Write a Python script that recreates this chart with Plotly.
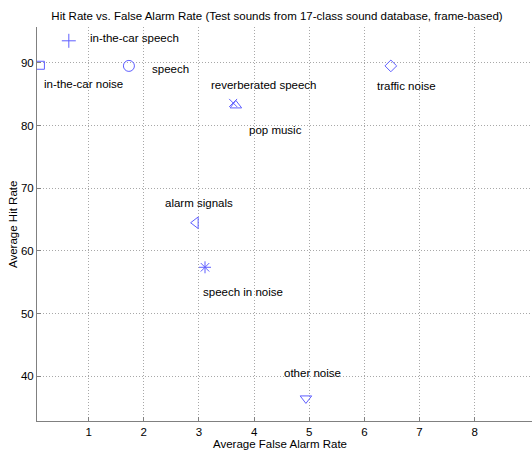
import plotly.graph_objects as go

labels = ["in-the-car speech", "in-the-car noise", "speech", "traffic noise",
          "reverberated speech", "pop music", "alarm signals", "speech in noise", "other noise"]
false_alarm = [0.64, 0.125, 1.73, 6.48, 3.67, 3.62, 2.94, 3.11, 4.94]
hit_rate = [93.5, 89.6, 89.5, 89.5, 83.2, 83.6, 64.5, 57.4, 36.5]
symbols = ["cross-thin-open", "square-open", "circle-open", "diamond-open",
           "triangle-up-open", "x-thin-open", "triangle-left-open", "asterisk-open", "triangle-down-open"]
sizes = [10, 8, 11, 9, 10, 8, 10, 10, 10]
label_x = [0.98, 0.15, 2.11, 6.2, 3.19, 3.88, 2.35, 3.04, 4.5]
label_y = [93.9, 86.6, 89.0, 86.3, 86.4, 79.3, 67.6, 53.4, 40.5]
x_ticks = [1, 2, 3, 4, 5, 6, 7, 8]
y_ticks = [40, 50, 60, 70, 80, 90]

color = "rgb(95,95,255)"
fig = go.Figure()
for i in range(len(labels)):
    fig.add_trace(go.Scatter(
        x=[false_alarm[i]], y=[hit_rate[i]], mode="markers", name=labels[i],
        marker=dict(symbol=symbols[i], size=sizes[i], color=color,
                    line=dict(color=color, width=1)),
        showlegend=False, hoverinfo="skip"))

font = dict(family="Liberation Sans, Arial, sans-serif", size=11.5, color="black")
for i in range(len(labels)):
    fig.add_annotation(x=label_x[i], y=label_y[i], text=labels[i], showarrow=False,
                       xanchor="left", yanchor="middle", font=font)

W, H, L, R, T, B = 532, 450, 37, 0, 27, 29
pw, ph = W - L - R, H - T - B
fig.add_annotation(text="Average False Alarm Rate", xref="paper", yref="paper",
                   x=(280 - L) / pw, y=-(444 - (H - B)) / ph, xanchor="center",
                   yanchor="middle", showarrow=False, font=font)
fig.add_annotation(text="Average Hit Rate", xref="paper", yref="paper",
                   x=-(L - 13) / pw, y=(H - B - 225) / ph, xanchor="center",
                   yanchor="middle", textangle=-90, showarrow=False, font=font)

axis_common = dict(showline=True, linecolor="#808080", linewidth=1, mirror=False,
                   showgrid=True, gridcolor="#a8a8a8", griddash="1px,2px", gridwidth=1,
                   ticks="inside", ticklen=4, tickcolor="#808080", zeroline=False,
                   tickfont=font, automargin=False)

fig.update_layout(
    width=W, height=H,
    margin=dict(l=L, r=R, t=T, b=B, autoexpand=False),
    plot_bgcolor="white", paper_bgcolor="white",
    font=font,
    title=dict(text="Hit Rate vs. False Alarm Rate (Test sounds from 17-class sound database, frame-based)",
               x=277 / W, xanchor="center", y=1 - 16 / H, yanchor="middle", font=font),
    xaxis=dict(range=[0.063, 9.04], tickvals=x_ticks, **axis_common),
    yaxis=dict(range=[32.9, 95.7], tickvals=y_ticks, **axis_common),
)

fig.write_html("out.html", config={"displayModeBar": False},
               post_script="document.body.style.margin='0';document.body.style.overflow='hidden';")
